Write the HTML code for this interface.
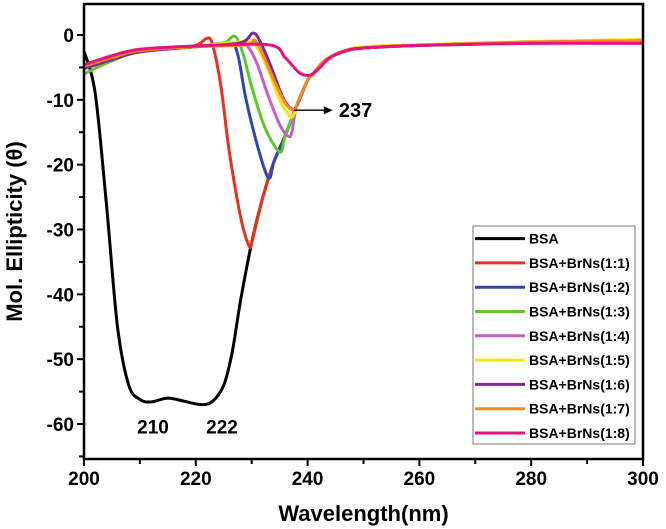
<!DOCTYPE html>
<html><head><meta charset="utf-8"><style>
html,body{margin:0;padding:0;background:#fff;}
svg{display:block;font-family:"Liberation Sans",Arial,sans-serif;font-weight:bold;}
</style></head><body>
<svg id="chart" width="666" height="529" viewBox="0 0 666 529" xmlns="http://www.w3.org/2000/svg">
<g id="series"></g>
<g id="axes"></g>
<g id="legend"></g>
</svg>
<script>
const seriesNames=["BSA","BSA+BrNs(1:1)","BSA+BrNs(1:2)","BSA+BrNs(1:3)","BSA+BrNs(1:4)","BSA+BrNs(1:5)","BSA+BrNs(1:6)","BSA+BrNs(1:7)","BSA+BrNs(1:8)"];
const seriesColors=["#000000","#e8321e","#2e48b0","#5fc828","#c85ec8","#f5e614","#7a2a9a","#f28a1c","#e8127a"];
const bsaX=[200,202,204,206,208,210,212,215,218,221,223,225,226.5,228,230,232,234,236,238,240,241,243,246,250,260,270,280,290,300];
const bsaY=[-2.5,-9,-26,-45,-54,-56.2,-56.6,-56,-56.5,-57,-56.5,-54,-49,-41,-32,-25,-19.5,-15.5,-11,-7,-6,-4,-2.7,-2,-1.6,-1.4,-1.1,-1.1,-1];
const r11X=[200,205,210,215,220,222,223,224.5,226,228,229.5,230,231,232,234,236,238,240,241,243,246,250,260,280,300];
const r11Y=[-5,-3.5,-2.5,-2,-1.6,-0.5,-1.5,-8,-18,-28,-32.5,-32,-28.5,-25,-19.5,-15.5,-11,-7,-6,-4,-2.7,-2,-1.6,-1.1,-1];
const r12X=[200,205,210,220,226,227.5,229,231,232.5,233.3,234,236,238,240,241,243,246,250,260,280,300];
const r12Y=[-5,-3.5,-2.5,-1.8,-1.3,-3,-10,-17,-21.2,-22,-19.5,-15.5,-11,-7,-6,-4,-2.7,-2,-1.6,-1.1,-1];
const r13X=[200,205,210,220,225,227,228.5,230,232,234,235.3,236,238,240,241,243,246,250,260,280,300];
const r13Y=[-6,-4,-2.6,-1.8,-1.2,-0.2,-3,-8,-13.5,-17,-18,-15.5,-11,-7,-6,-4,-2.7,-2,-1.6,-1.1,-0.8];
const r14X=[200,205,210,220,228,229.5,231,233,235,236.5,237.2,238,240,241,243,246,250,260,280,300];
const r14Y=[-5,-3.8,-2.6,-1.8,-1.5,-2,-4.5,-9.5,-13.8,-15.6,-15,-11,-7,-6,-4,-2.7,-2,-1.6,-1.1,-0.8];
const r15X=[200,205,210,220,229,231,233,235,236.8,237.5,238,240,241,243,246,250,260,280,300];
const r15Y=[-5,-3.6,-2.5,-1.8,-1,-2,-5.5,-10,-12.5,-12.4,-11,-7,-6,-4,-2.6,-1.8,-1.5,-1,-0.7];
const r16X=[200,205,210,220,228,230.2,231.5,233.5,235.5,237,238,240,241,243,246,250,260,280,300];
const r16Y=[-5.2,-3.8,-2.6,-1.8,-1.2,0.3,-1,-5,-9.5,-11.3,-11,-7,-6,-4,-2.6,-2,-1.6,-1.1,-0.9];
const r17X=[200,205,210,220,229,230.5,232,234,236,237.6,238.2,240,241,243,246,250,260,280,300];
const r17Y=[-4.8,-3.5,-2.4,-1.8,-1.5,-0.8,-3,-7,-10.5,-11.6,-10.5,-7,-6,-4,-2.6,-2,-1.6,-1.1,-0.9];
const r18X=[200,205,210,220,233,236,238.5,240.4,242,244,247,250,260,280,300];
const r18Y=[-4.6,-3.2,-2.2,-1.7,-1.5,-3.5,-5.8,-6.2,-5.2,-3.5,-2.4,-2,-1.6,-1.3,-1.3];
const allX=[bsaX,r11X,r12X,r13X,r14X,r15X,r16X,r17X,r18X];
const allY=[bsaY,r11Y,r12Y,r13Y,r14Y,r15Y,r16Y,r17Y,r18Y];
const xTicks=[200,220,240,260,280,300];
const yTicks=[0,-10,-20,-30,-40,-50,-60];

const L=84,R=643,T=4,B=459;
const X=v=>L+(v-200)/100*(R-L);
const Y=v=>35+(0-v)*(424-35)/60;
const NS="http://www.w3.org/2000/svg";
function mk(tag,attrs,parent){const e=document.createElementNS(NS,tag);for(const k in attrs)e.setAttribute(k,attrs[k]);parent.appendChild(e);return e;}
function spline(pts){let d="M"+pts[0][0].toFixed(1)+","+pts[0][1].toFixed(1);
 for(let i=0;i<pts.length-1;i++){const p0=pts[Math.max(0,i-1)],p1=pts[i],p2=pts[i+1],p3=pts[Math.min(pts.length-1,i+2)];
 const c1=[p1[0]+(p2[0]-p0[0])/6,p1[1]+(p2[1]-p0[1])/6],c2=[p2[0]-(p3[0]-p1[0])/6,p2[1]-(p3[1]-p1[1])/6];
 d+=" C"+c1.map(v=>v.toFixed(1))+" "+c2.map(v=>v.toFixed(1))+" "+p2[0].toFixed(1)+","+p2[1].toFixed(1);}
 return d;}
const sg=document.getElementById('series');
const order=[0,1,2,3,4,5,6,7,8];
order.forEach(i=>{
 const pts=allX[i].map((x,j)=>[X(x),Y(allY[i][j])]);
 const p=mk('path',{d:spline(pts),fill:'none',stroke:seriesColors[i],'stroke-width':3,'stroke-linejoin':'round'},sg);
 
 
});
const a1=mk('text',{x:153,y:Y(-61.5),'font-size':19,'text-anchor':'middle'},sg);a1.textContent="210";

const a2=mk('text',{x:222,y:Y(-61.5),'font-size':19,'text-anchor':'middle'},sg);a2.textContent="222";

const ar=mk('line',{x1:X(237.6),y1:Y(-11.6),x2:X(244.5)-6,y2:Y(-11.6),stroke:'#000','stroke-width':1.3},sg);

const ah=mk('polygon',{points:`${X(244.5)},${Y(-11.6)} ${X(244.5)-9},${Y(-11.6)-4} ${X(244.5)-9},${Y(-11.6)+4}`,fill:'#000'},sg);

const a3=mk('text',{x:X(245.6),y:Y(-11.6)+7,'font-size':20},sg);a3.textContent="237";


const ag=document.getElementById('axes');
const fr=mk('rect',{x:L,y:T,width:R-L,height:B-T,fill:'none',stroke:'#000','stroke-width':2.5},ag);

for(let v=200;v<=300;v+=10){const major=(v%20===0);
 const t=mk('line',{x1:X(v),x2:X(v),y1:B,y2:B+(major?7:5),stroke:'#000','stroke-width':2},ag);
 }
xTicks.forEach(v=>{const t=mk('text',{x:X(v),y:B+26,'font-size':19,'text-anchor':'middle'},ag);t.textContent=v;
 });
for(let v=0;v>=-65;v-=5){const major=(v%10===0);
 const t=mk('line',{x1:L,x2:L-(major?7:5),y1:Y(v),y2:Y(v),stroke:'#000','stroke-width':2},ag);
 }
yTicks.forEach(v=>{const t=mk('text',{x:L-10,y:Y(v)+7,'font-size':19,'text-anchor':'end'},ag);t.textContent=v;
 });
const xt=mk('text',{x:(L+R)/2,y:521,'font-size':22,'text-anchor':'middle'},ag);xt.textContent="Wavelength(nm)";

const yt=mk('text',{x:0,y:0,'font-size':22,'text-anchor':'middle',transform:`translate(22,${(T+B)/2}) rotate(-90)`},ag);yt.textContent="Mol. Ellipticity (θ)";


const lg=document.getElementById('legend');
const lb=mk('rect',{x:473,y:226,width:162,height:218,fill:'#fff',stroke:'#777','stroke-width':1},lg);

seriesNames.forEach((n,i)=>{const y=238.6+i*24.3;
 const g=mk('g',{},lg);
 mk('line',{x1:475,x2:525,y1:y,y2:y,stroke:seriesColors[i],'stroke-width':3},g);
 const t=mk('text',{x:529,y:y+5,'font-size':14},g);t.textContent=n;});
</script>
</body></html>
